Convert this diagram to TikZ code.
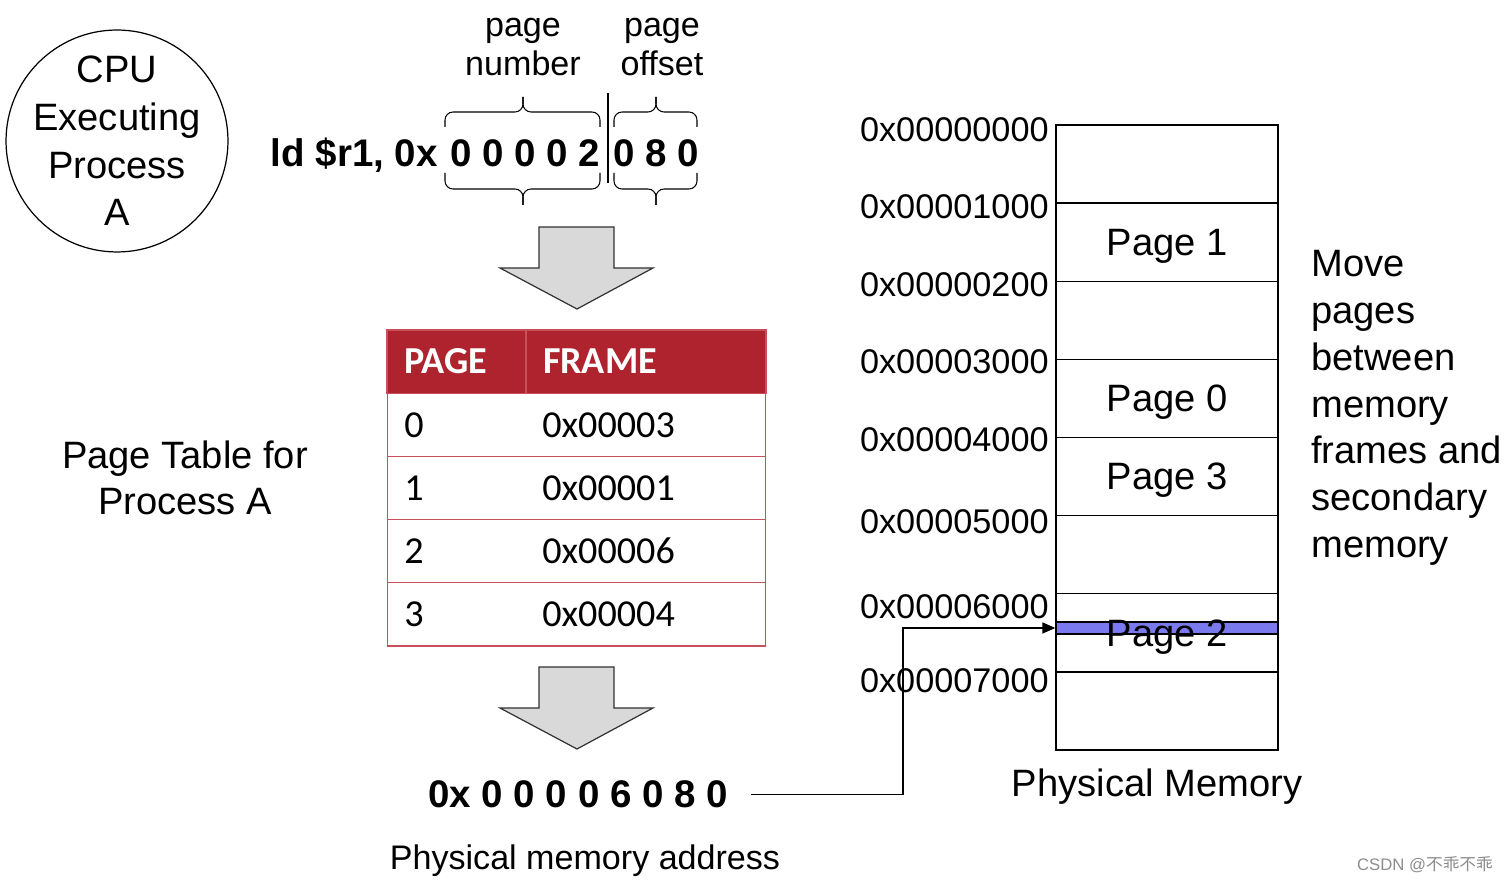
\documentclass[tikz,border=0pt]{standalone}
\usepackage{fontspec}
\setmainfont{Liberation Sans}
\newfontfamily\calibri{Carlito}
\newfontfamily\cjk{Noto Sans CJK SC}
\usetikzlibrary{positioning,arrows.meta}
\definecolor{tablered}{RGB}{174,35,46}
\definecolor{tableline}{RGB}{200,80,90}
\definecolor{arrowgray}{RGB}{217,217,217}
\definecolor{bandblue}{RGB}{122,122,238}

\begin{document}
\begin{tikzpicture}[x=0.02cm, y=-0.02cm,
                    big/.style={font=\fontsize{21.7pt}{26.6pt}\selectfont},
                    small/.style={font=\fontsize{19.4pt}{22.7pt}\selectfont},
                    hexbold/.style={font=\fontsize{21.9pt}{26pt}\selectfont\bfseries, inner sep=0pt},
                    tabfont/.style={font=\calibri\fontsize{21.7pt}{26pt}\selectfont},
                    hcell/.style={draw=tableline, line width=0.6pt, minimum height=1.264cm, inner xsep=0.34cm, align=left, fill=tablered, text=white, font=\calibri\fontsize{21.7pt}{26pt}\selectfont\bfseries},
                    rowbox/.style={draw=tableline, line width=0.6pt, minimum height=1.264cm, minimum width=7.58cm, inner sep=0pt},
                    celltext/.style={tabfont, anchor=west, inner sep=0pt},
                    slot/.style={draw, line width=0.8pt, minimum width=4.44cm, minimum height=1.5625cm, text depth=0pt, big},
                    addrlbl/.style={anchor=east, inner sep=0pt, font=\fontsize{19.5pt}{22pt}\selectfont},
                    blockarrow/.style={draw=black!80, fill=arrowgray, line width=0.7pt, line join=miter},
                    bracestyle/.style={line width=0.6pt, rounded corners=0.16cm},
                    conn/.style={line width=0.85pt, -{Triangle[length=0.26cm, width=0.22cm]}}
                ]
                \useasboundingbox (0,0) rectangle (1509,884);

                % CPU and the virtual address
                \node[align=center, font=\fontsize{21.7pt}{27.2pt}\selectfont] (cpu) at (117,141) {CPU\\Executing\\Process\\A};
                \draw[line width=0.7pt] (cpu.center) circle[radius=2.22cm];
                \node[small, align=center] (pnlbl) at (523,47) {page\\number};
                \node[small, align=center] (polbl) at (662,47) {page\\offset};
                \node[hexbold, anchor=base east] (instr) at (438,167) {ld \$r1, 0x};
                \node[hexbold, anchor=base] (pnum) at (525,167) {0 0 0 0 2};
                \node[hexbold, anchor=base] (poff) at (656,167) {0 8 0};
                \draw[line width=0.6pt] (608,93) -- (608,183);
                % braces, top and bottom
                \foreach \l/\m/\r in {445/523/600, 614/656/697} {
                    \draw[bracestyle] (\l,127) |- (\m,112) -- (\m,97);
                    \draw[bracestyle] (\r,127) |- (\m,112) -- (\m,97);
                    \draw[bracestyle] (\l,173) |- (\m,189) -- (\m,205);
                    \draw[bracestyle] (\r,173) |- (\m,189) -- (\m,205);
                }

                % Block arrows
                \foreach \t in {227,667}
                    \draw[blockarrow] (539,\t) -- (614,\t) -- (614,\t+41) -- (653,\t+41) -- (577,\t+82) -- (500,\t+41) -- (539,\t+41) -- cycle;

                % Page table
                \node[big, align=center] (ptlbl) at (185,478) {Page Table for\\Process A};
                \node[hcell, text width=2.1cm] (h1) at (456.5,361.6) {PAGE};
                \node[hcell, text width=4.12cm] (h2) at (646,361.6) {FRAME};
                \foreach \pg/\fr [count=\r] in {0/0x00003,1/0x00001,2/0x00006,3/0x00004} {
                    \node[rowbox] (row\r) at (576.5,361.6+63.2*\r) {};
                    \node[celltext] (p\r) at (404,361.6+63.2*\r) {\pg};
                    \node[celltext] (f\r) at (542,361.6+63.2*\r) {\fr};
                }

                % Physical address
                \node[hexbold, anchor=base west] (addr) at (428,808) {0x 0 0 0 0 6 0 8 0};
                \node[small] (palbl) at (585,861) {Physical memory address};

                % Physical memory
                \node[draw, fill=bandblue, line width=0.8pt, minimum width=4.44cm, minimum height=0.24cm, inner sep=0pt] (band) at (1167,628) {};
                \foreach \i/\lbl in {0/{},1/Page 1,2/{},3/Page 0,4/Page 3,5/{},6/Page 2,7/{}}
                    \node[slot] (m\i) at (1167,125+78.125*\i+39.06) {\lbl};
                \foreach \a/\y in {0x00000000/130,0x00001000/207,0x00000200/285,0x00003000/362,0x00004000/440,0x00005000/522,0x00006000/607,0x00007000/681}
                    \node[addrlbl] (a\y) at (1049,\y) {\a};
                \node[big, below=0.24cm of m7, xshift=-0.2cm] (pmlbl) {Physical Memory};
                \node[big, anchor=west, align=left, inner sep=0pt] (movelbl) at (1311,408) {Move\\pages\\between\\memory\\frames and\\secondary\\memory};

                % Connection
                \coordinate (bend) at (903,700);
                \draw[conn] ([xshift=0.45cm]addr.east) -| (bend) |- (band.west);

                \node[text=black!45, font=\fontsize{9.5pt}{11pt}\selectfont] (mark) at (1425,865) {CSDN @{\cjk 不乖不乖}};
            \end{tikzpicture}
\end{document}
